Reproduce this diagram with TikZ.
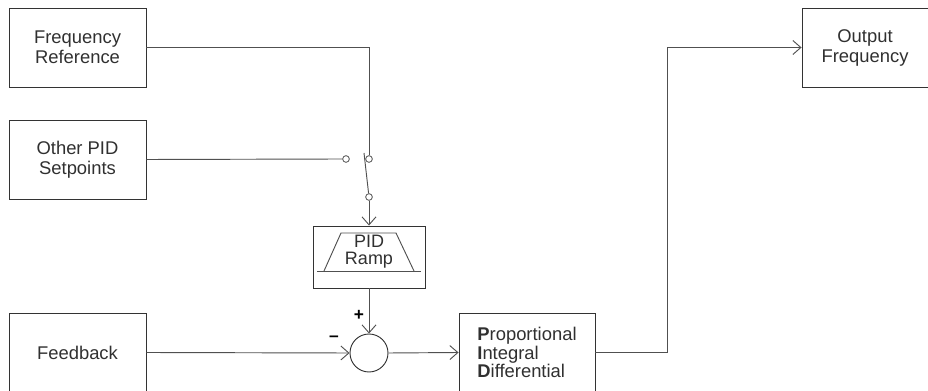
\documentclass[tikz,border=0pt]{standalone}
\usepackage{fontspec}
\setmainfont{Liberation Sans}
\usepackage{xcolor}
\definecolor{wiregray}{HTML}{505050}
\definecolor{edgegray}{HTML}{333333}
\definecolor{textgray}{HTML}{303030}
\usepackage{tikz}
\usetikzlibrary{arrows.meta, positioning}

\begin{document}
\begin{tikzpicture}[
        x=0.75pt, y=-0.75pt,
        block/.style={draw=edgegray, line width=0.7pt, rectangle, minimum width=102.75pt, minimum height=59.25pt, align=center, inner sep=0pt, text=textgray, font=\fontsize{13.8}{15}\selectfont},
        wire/.style={draw=wiregray, line width=0.7pt},
        feed/.style={wire, -{Straight Barb[length=6pt, width=10.5pt]}},
        contact/.style={circle, draw=wiregray, line width=0.6pt, fill=white, minimum size=5pt, inner sep=0pt},
        sign/.style={font=\bfseries\fontsize{13}{13}\selectfont, text=black, inner sep=0pt}
    ]
        \useasboundingbox (0,0) rectangle (928,391);

        % Sources
        \node[block] (freqref) at (77.5,47.5) {Frequency\\Reference};
        \node[block] (otherpid) at (77.5,159.5) {Other PID\\Setpoints};
        \node[block] (feedback) at (77.5,352.5) {Feedback};

        % Output
        \node[block, minimum width=94.5pt] (outfreq) at (865,47.5) {Output\\Frequency};

        % Setpoint selector switch
        \node[contact] (swin) at (346,159) {};
        \node[contact] (swtop) at (369,159) {};
        \node[contact] (swout) at (369,197) {};
        \coordinate (bladetip) at (364,153);

        % Ramp, summing junction and controller
        \node[block, minimum width=84pt, minimum height=46.5pt] (ramp) at (369,257) {};
        \node[block, draw=none, minimum width=0pt, minimum height=0pt, font=\fontsize{13.5}{12.6}\selectfont] (ramptxt) at (369,252) {PID\\Ramp};
        \node[circle, draw=edgegray, line width=0.7pt, minimum size=28.5pt, inner sep=0pt] (sum) at (369,353) {};
        \node[block, minimum width=102pt, align=left, font=\fontsize{13.8}{12.75}\selectfont] (pid) at (527,352.5) {\textbf{P}roportional\\\textbf{I}ntegral\\\textbf{D}ifferential};

        \begin{scope}[shift={(ramp.center)}]
            \draw[wire] (-52,14) -- (52,14);
            \draw[wire] (-45,14) -- (-28,-24) -- (27,-24) -- (45,14);
        \end{scope}

        % Signs
        \node[sign] (plus) at (359,315) {+};
        \node[sign] (minus) at (334,339) {\textendash};

        % Connections
        \draw[wire] (freqref.east) -| (swtop.north);
        \draw[wire] (otherpid.east) -- (swin.west);
        \draw[wire] (swout) -- (bladetip);
        \draw[feed] (swout.south) -- (ramp.north);
        \draw[feed] (ramp.south) -- (sum.north);
        \draw[feed] (feedback.east) -- (sum.west);
        \draw[feed] (sum.east) -- (pid.west);
        \draw[feed] (pid.east) -- ++(72,0) |- (outfreq.west);

    \end{tikzpicture}
\end{document}
